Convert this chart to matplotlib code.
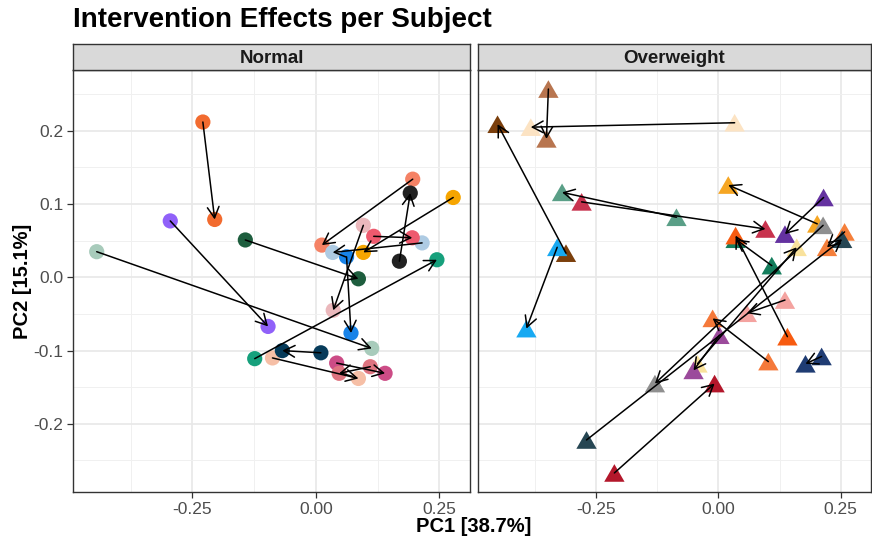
import matplotlib
matplotlib.use("Agg")
import matplotlib.pyplot as plt
from matplotlib.ticker import FixedLocator

plt.rcParams['font.family'] = ['Liberation Sans', 'DejaVu Sans']

# ---------------- data ----------------
title = "Intervention Effects per Subject"
panels = ["Normal", "Overweight"]
x_label = "PC1 [38.7%]"
y_label = "PC2 [15.1%]"
x_ticks = [-0.25, 0.00, 0.25]
x_tick_labels = ["-0.25", "0.00", "0.25"]
y_ticks = [-0.2, -0.1, 0.0, 0.1, 0.2]
y_tick_labels = ["-0.2", "-0.1", "0.0", "0.1", "0.2"]

# Normal group: colour per subject, PC coordinates before -> after
normal_colors = ['#F26B2F', '#9061F9', '#A8CBBB', '#1E5E3E', '#16A07C', '#063B5A',
                 '#F6BFA6', '#CC4C86', '#DE7480', '#F58265', '#222222', '#F6A500',
                 '#EBB8BC', '#EE5A6E', '#AECBE3', '#1883E8']
normal_pre_x = [-0.229, -0.295, -0.444, -0.143, -0.124, 0.010, -0.088, 0.042,
                0.110, 0.196, 0.169, 0.278, 0.096, 0.117, 0.215, 0.062]
normal_pre_y = [0.212, 0.077, 0.035, 0.051, -0.111, -0.103, -0.110, -0.117,
                -0.122, 0.134, 0.022, 0.109, 0.071, 0.056, 0.047, 0.028]
normal_post_x = [-0.205, -0.097, 0.113, 0.086, 0.245, -0.068, 0.086, 0.140,
                 0.047, 0.012, 0.191, 0.096, 0.035, 0.195, 0.034, 0.071]
normal_post_y = [0.079, -0.067, -0.097, -0.002, 0.024, -0.100, -0.138, -0.131,
                 -0.131, 0.044, 0.115, 0.034, -0.045, 0.054, 0.034, -0.076]

# Overweight group
over_colors = ['#B8754F', '#FCE3C3', '#7B3F0C', '#17A9F2', '#5A9F87', '#C8334E',
               '#F6A623', '#6432A0', '#8F8F8F', '#264653', '#B3172B', '#137D5C',
               '#F75B10', '#F9E29C', '#9B4A9B', '#F5793A', '#F57F3A', '#F4A3A0',
               '#1F3C73']
over_pre_x = [-0.348, 0.033, -0.312, -0.330, -0.086, -0.280, 0.202, 0.215, 0.214,
              -0.270, -0.213, 0.109, 0.141, -0.043, 0.002, 0.102, 0.258, 0.136, 0.211]
over_pre_y = [0.257, 0.211, 0.033, 0.041, 0.082, 0.103, 0.073, 0.109, 0.071,
              -0.222, -0.267, 0.016, -0.081, -0.118, -0.079, -0.115, 0.062, -0.031, -0.108]
over_post_x = [-0.352, -0.384, -0.452, -0.393, -0.320, 0.096, 0.020, 0.136, -0.130,
               0.253, -0.008, 0.035, 0.035, 0.160, -0.051, -0.012, 0.222, 0.058, 0.178]
over_post_y = [0.189, 0.205, 0.209, -0.070, 0.116, 0.066, 0.126, 0.059, -0.145,
               0.052, -0.145, 0.052, 0.057, 0.041, -0.127, -0.056, 0.041, -0.049, -0.118]

# ---------------- figure ----------------
W, H = 872, 544
fig = plt.figure(figsize=(W / 100, H / 100), dpi=100)

def fx(px):
    return px / W

def fy(py):
    return 1 - py / H

panel_top, panel_bot = 70, 492
boxes = [(73, 470), (478, 871)]
tri = [(-1, -0.866), (1, -0.866), (0, 0.866), (-1, -0.866)]

data = [
    (normal_colors, normal_pre_x, normal_pre_y, normal_post_x, normal_post_y, 'o', 120),
    (over_colors, over_pre_x, over_pre_y, over_post_x, over_post_y, tri, 215),
]

for i, ((l, r), name, d) in enumerate(zip(boxes, panels, data)):
    ax = fig.add_axes([fx(l), fy(panel_bot), (r - l) / W, (panel_bot - panel_top) / H])
    ax.set_xlim(-0.492, 0.312)
    ax.set_ylim(-0.293, 0.283)
    ax.set_facecolor('white')
    ax.xaxis.set_major_locator(FixedLocator(x_ticks))
    ax.xaxis.set_minor_locator(FixedLocator([-0.375, -0.125, 0.125, 0.375]))
    ax.yaxis.set_major_locator(FixedLocator(y_ticks))
    ax.yaxis.set_minor_locator(FixedLocator([-0.25, -0.15, -0.05, 0.05, 0.15, 0.25]))
    ax.grid(which='major', color='#E8E8E8', lw=1.2, zorder=0)
    ax.grid(which='minor', color='#F0F0F0', lw=0.7, zorder=0)
    ax.set_axisbelow(True)
    for sp in ax.spines.values():
        sp.set_color('#333333')
        sp.set_linewidth(1.0)
    ax.tick_params(which='minor', length=0)
    ax.tick_params(which='major', length=4, width=0.9, color='#333333',
                   labelsize=12.5, labelcolor='#4D4D4D', pad=3)
    ax.set_xticklabels(x_tick_labels)
    if i == 0:
        ax.set_yticklabels(y_tick_labels)
    else:
        ax.tick_params(axis='y', left=False, labelleft=False)

    cols, px0, py0, px1, py1, mk, sz = d
    ax.scatter(px0, py0, c=cols, marker=mk, s=sz, linewidths=0, zorder=3)
    ax.scatter(px1, py1, c=cols, marker=mk, s=sz, linewidths=0, zorder=3)
    for a, b, c_, e in zip(px0, py0, px1, py1):
        ax.annotate('', xy=(c_, e), xytext=(a, b),
                    arrowprops=dict(arrowstyle='->,head_length=0.65,head_width=0.35',
                                    color='black', lw=1.1, shrinkA=0, shrinkB=0,
                                    mutation_scale=12),
                    zorder=4)

    # strip
    sax = fig.add_axes([fx(l), fy(panel_top), (r - l) / W, 26 / H])
    sax.set_facecolor('#D9D9D9')
    sax.set_xticks([])
    sax.set_yticks([])
    for sp in sax.spines.values():
        sp.set_color('#333333')
        sp.set_linewidth(1.0)
    sax.text(0.5, 0.45, name, ha='center', va='center', fontsize=13.5,
             fontweight='bold', color='#1A1A1A', transform=sax.transAxes)

fig.text(fx(73), fy(20), title, ha='left', va='center', fontsize=20,
         fontweight='bold', color='black')
fig.text(fx(474), fy(527), x_label, ha='center', va='center', fontsize=14.5,
         fontweight='bold', color='black')
fig.text(fx(22), fy(281), y_label, ha='center', va='center', rotation=90,
         fontsize=14.5, fontweight='bold', color='black')

fig.savefig('out.png', dpi=100)
